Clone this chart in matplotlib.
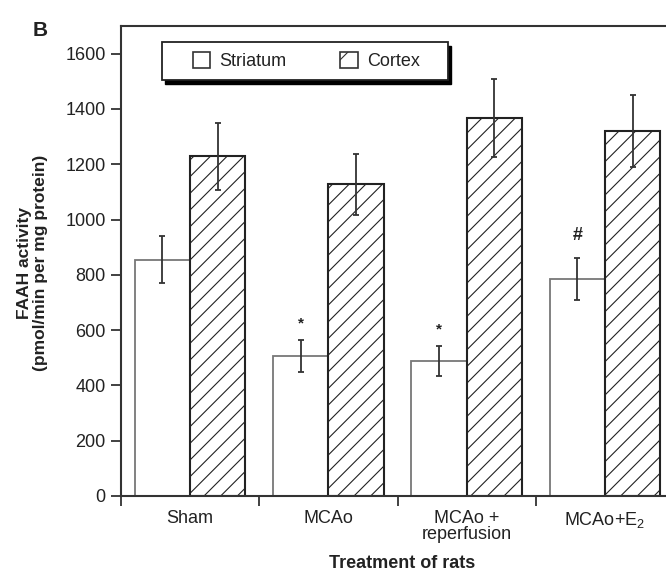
import matplotlib
matplotlib.use('Agg')
import matplotlib.pyplot as plt
import numpy as np
from matplotlib.patches import Rectangle, Patch

# ---- data ----
categories = ['Sham', 'MCAo', 'MCAo +\nreperfusion', 'MCAo+E$_2$']
striatum = [855, 505, 488, 785]
striatum_err = [85, 58, 55, 77]
cortex = [1228, 1128, 1367, 1319]
cortex_err = [120, 110, 140, 130]
marks = ['', '*', '*', '#']
yticks = [0, 200, 400, 600, 800, 1000, 1200, 1400, 1600]
series_names = ['Striatum', 'Cortex']

plt.rcParams['font.family'] = ['Liberation Sans', 'DejaVu Sans']
plt.rcParams['hatch.linewidth'] = 0.8
plt.rcParams['mathtext.fontset'] = 'custom'
plt.rcParams['mathtext.rm'] = 'Liberation Sans'

TXT = '#222222'
fig = plt.figure(figsize=(6.66, 5.72), dpi=100)
ax = fig.add_axes([121/666, 76/572, 553/666, 470/572])

x = np.arange(len(categories))
w = 0.4
ekw = dict(ecolor='#333333', elinewidth=1.3, capsize=2.5, capthick=1.3)
ax.bar(x - w/2, striatum, w, color='white', edgecolor='#777777', linewidth=1.3,
       yerr=striatum_err, error_kw=ekw, zorder=2)
ax.bar(x + w/2, cortex, w, color='white', edgecolor='#222222', linewidth=1.5,
       hatch='//', yerr=cortex_err, error_kw=ekw, zorder=2)

for xi, s, e, m in zip(x, striatum, striatum_err, marks):
    if m:
        ax.annotate(m, (xi - w/2, s + e), xytext=(0, 10 if m == '#' else 7),
                    textcoords='offset points', ha='center', va='bottom',
                    fontsize=13 if m == '#' else 11, fontweight='bold', color=TXT)

ax.set_xlim(-0.5, 3.5)
ax.set_ylim(0, 1700)
ax.set_yticks(yticks)
ax.set_yticklabels([str(v) for v in yticks])
ax.set_xticks(np.arange(-0.5, 4.0, 1.0))
ax.set_xticklabels([])
ax.set_xticks(x, minor=True)
ax.set_xticklabels(categories, minor=True)
for t in ax.get_xticklabels(minor=True):
    t.set_linespacing(0.95)
ax.tick_params(axis='x', which='major', length=7, width=1.3, color='#333333', direction='out')
ax.tick_params(axis='x', which='minor', length=0, pad=10, labelsize=13, labelcolor=TXT)
ax.tick_params(axis='y', which='major', length=7, width=1.3, color='#333333',
               direction='out', pad=4, labelsize=13, labelcolor=TXT)
for sp in ax.spines.values():
    sp.set_color('#333333')
    sp.set_linewidth(1.5)

ax.set_ylabel('FAAH activity\n(pmol/min per mg protein)', fontsize=12.5,
              fontweight='bold', color=TXT, linespacing=1.15, va='center', ha='center')
ax.yaxis.set_label_coords(-0.160, 0.496)
ax.set_xlabel('Treatment of rats', fontsize=13, fontweight='bold', color=TXT,
              va='center', ha='center')
ax.xaxis.set_label_coords(0.508, -0.1426)

# legend box with shadow
bx, by, bw, bh = 41/553, (496-80)/470, 286/553, 38/470
shadow = Rectangle((bx + 3/553, by - 4/470), bw, bh, transform=ax.transAxes,
                   facecolor='black', edgecolor='black', zorder=5, clip_on=False)
box = Rectangle((bx, by), bw, bh, transform=ax.transAxes, facecolor='white',
                edgecolor='#222222', linewidth=1.3, zorder=6, clip_on=False)
ax.add_patch(shadow)
ax.add_patch(box)
handles = [Patch(facecolor='white', edgecolor='#333333', linewidth=1.2, label=series_names[0]),
           Patch(facecolor='white', edgecolor='#333333', linewidth=1.2, hatch='/', label=series_names[1])]
leg = ax.legend(handles=handles, ncol=2, frameon=False, loc='center left',
                bbox_to_anchor=((193-121)/553, (496-61)/470), borderpad=0, borderaxespad=0,
                handlelength=0.95, handleheight=0.95, handletextpad=0.5,
                columnspacing=3.0, fontsize=13, labelcolor=TXT)
leg.set_zorder(7)

fig.text(33/666, 1 - 36/572, 'B', fontsize=15, fontweight='bold', color=TXT,
         ha='left', va='baseline')

fig.savefig('out.png', dpi=100)
